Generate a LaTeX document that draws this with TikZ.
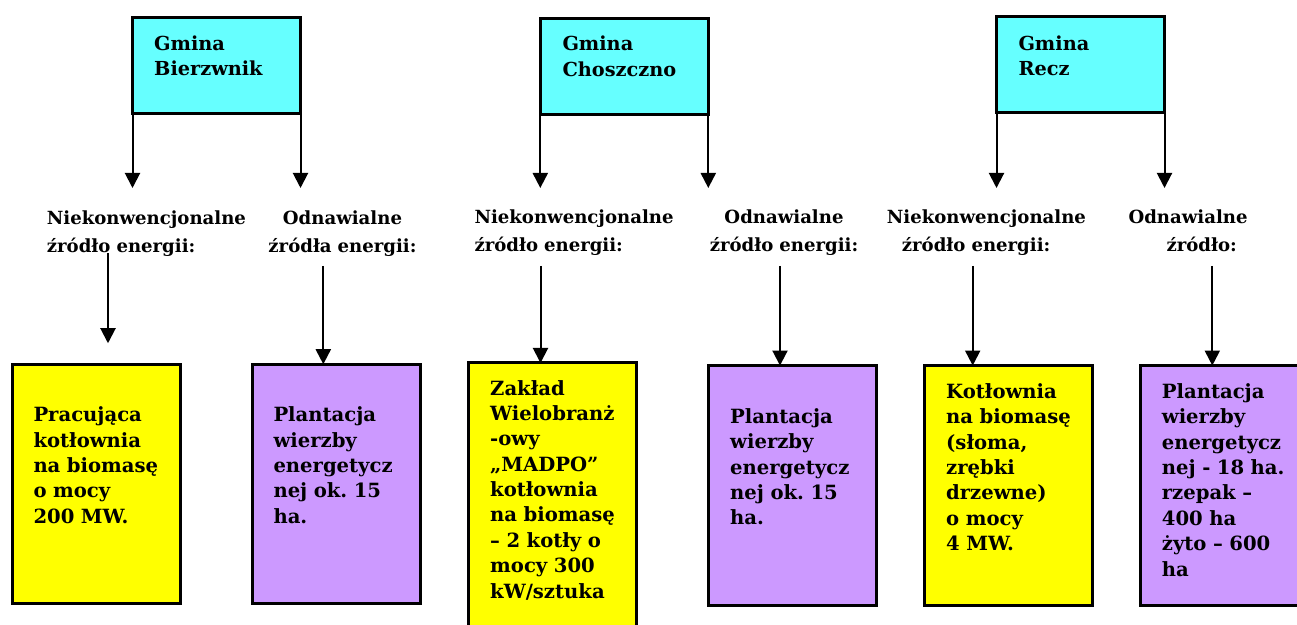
\documentclass[tikz,border=0pt]{standalone}
\usepackage{fontspec}
\setmainfont{DejaVu Serif}
\usetikzlibrary{arrows.meta, positioning}
\definecolor{gminacyan}{HTML}{66FFFF}
\definecolor{kotlyellow}{HTML}{FFFF00}
\definecolor{plantviolet}{HTML}{CC99FF}
\frenchspacing

\begin{document}
\begin{tikzpicture}[
      x=1pt, y=1pt, >={Triangle[length=15pt,width=15pt]},
      gmina/.style={draw, line width=3pt, outer sep=0pt, fill=gminacyan,
        minimum width=168pt, minimum height=96pt},
      kotl/.style={draw, line width=3pt, outer sep=0pt, fill=kotlyellow,
        minimum width=168pt, minimum height=239.5pt},
      plant/.style={kotl, fill=plantviolet},
      gtxt/.style={anchor=base west, inner sep=0pt, text width=140pt, align=left,
        font=\bfseries\fontsize{19.3}{25.5}\selectfont},
      opis/.style={anchor=base west, inner sep=0pt, text width=220pt, align=left,
        font=\bfseries\fontsize{18.1}{27.3}\selectfont},
      opisc/.style={opis, anchor=base, text width=170pt, align=center},
      btxt/.style={anchor=base west, inner sep=0pt, text width=150pt, align=left,
        font=\bfseries\fontsize{19.6}{25.4}\selectfont},
      strz/.style={->, line width=2pt},
      ]
      \clip (0,0) rectangle (1297,624);

      % gminy
      \node[gmina] (gb) at (216.5,558.5) {};
      \node[gmina] (gc) at (624.3,557.2) {};
      \node[gmina] (gr) at (1080.5,559) {};
      \node[gtxt] (gbt) at (154,573.5) {Gmina\\Bierzwnik};
      \node[gtxt] (gct) at (562.3,573) {Gmina\\Choszczno};
      \node[gtxt] (grt) at (1018.3,573.5) {Gmina\\Recz};

      % rodzaje zrodel
      \node[opis]  (nb) at (46.7,399) {Niekonwencjonalne\\źródło energii:};
      \node[opisc] (ob) at (342.5,399) {Odnawialne\\źródła energii:};
      \node[opis]  (nc) at (474.3,400) {Niekonwencjonalne\\źródło energii:};
      \node[opisc] (oc) at (784,400) {Odnawialne\\źródło energii:};
      \node[opis]  (nr) at (886.7,400) {Niekonwencjonalne\\\hspace*{15pt}źródło energii:};
      \node[opis]  (or) at (1128.3,400) {Odnawialne\\\hspace*{38pt}źródło:};

      % zrodla
      \node[kotl]  (b1) at (96.5,140) {};
      \node[plant] (b2) at (336.3,140) {};
      \node[kotl,minimum height=287pt] (b3) at (552.5,117.5) {};
      \node[plant] (b4) at (792.5,138.7) {};
      \node[kotl]  (b5) at (1008.7,138.7) {};
      \node[plant] (b6) at (1224.8,138.7) {};

      \node[btxt] (b1t) at (33.3,202.3) {Pracująca\\kotłownia\\na biomasę\\o mocy\\200 MW.};
      \node[btxt] (b2t) at (273.3,202.3) {Plantacja\\wierzby\\energetycz\\nej ok. 15\\ha.};
      \node[btxt] (b3t) at (490,229) {Zakład\\Wielobranż\\-owy\\„MADPO”\\kotłownia\\na biomasę\\– 2 kotły o\\mocy 300\\kW/sztuka};
      \node[btxt] (b4t) at (730,200.7) {Plantacja\\wierzby\\energetycz\\nej ok. 15\\ha.};
      \node[btxt] (b5t) at (946,225.7) {Kotłownia\\na biomasę\\(słoma,\\zrębki\\drzewne)\\o mocy\\4 MW.};
      \node[btxt] (b6t) at (1161.7,225.7) {Plantacja\\wierzby\\energetycz\\nej - 18 ha.\\rzepak –\\400 ha\\żyto – 600\\ha};

      % strzalki
      \coordinate (tip) at (0,436);
      \foreach \g in {gb,gc,gr} {
        \draw[strz] (\g.south west) -- (\g.south west |- tip);
        \draw[strz] (\g.south east) -- (\g.south east |- tip);
      }
      \coordinate (s1) at (108,371);
      \coordinate (s2) at (323.3,358);
      \coordinate (s3) at (540.5,358);
      \coordinate (s4) at (780,358);
      \coordinate (s5) at (972.7,358);
      \coordinate (s6) at (1212.3,358);
      \draw[strz, shorten >=21pt] (s1) -- (s1 |- b1.north);
      \draw[strz] (s2) -- (s2 |- b2.north);
      \draw[strz] (s3) -- (s3 |- b3.north);
      \draw[strz] (s4) -- (s4 |- b4.north);
      \draw[strz] (s5) -- (s5 |- b5.north);
      \draw[strz] (s6) -- (s6 |- b6.north);
    \end{tikzpicture}
\end{document}
